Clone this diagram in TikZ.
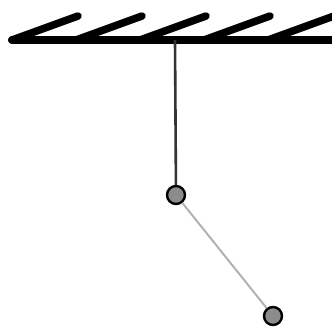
\documentclass[tikz,border=0pt]{standalone}
\begin{document}
\begin{tikzpicture}[x=1pt,y=-1pt,
  ceiling/.style={line width=8pt,line cap=round,black},
  hatch/.style={line width=7.5pt,line cap=round,black},
  rope/.style={line width=2.6pt,black!80},
  link/.style={line width=2pt,black!30},
  bob/.style={circle,draw=black,line width=2.4pt,fill=black!45,minimum size=18pt,inner sep=0pt}]
\useasboundingbox (0,0) rectangle (332,329);
\draw[ceiling] (12,40) -- (340,40);
\foreach \i in {0,...,4}{
  \draw[hatch] (12+64*\i,40) -- (78+64*\i,16);
}
\coordinate (pivot) at (175,40);
\node[bob] (b1) at (176,195) {};
\node[bob] (b2) at (273,316) {};
\draw[rope] (pivot) -- (b1);
\draw[link] (b1) -- (b2);
\end{tikzpicture}
\end{document}
